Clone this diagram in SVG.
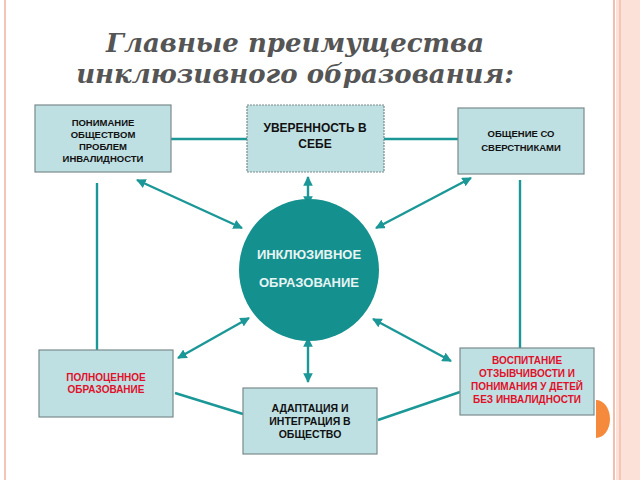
<svg xmlns="http://www.w3.org/2000/svg" width="640" height="480" viewBox="0 0 640 480">
<defs>
<marker id="a" viewBox="0 0 10 10" refX="9" refY="5" markerWidth="4" markerHeight="4" orient="auto-start-reverse"><path d="M0,0L10,5L0,10z" fill="#1b9797"/></marker>
<style>
.box{fill:#bfe0e3;stroke:#7a8a8a;stroke-width:1.2}
.t{font-family:"Liberation Sans",Arial,sans-serif;font-weight:bold;text-anchor:middle;fill:#111}
.r{fill:#e0102a}
.c{stroke:#1b9797;stroke-width:2.4;fill:none}
.ar{marker-start:url(#a);marker-end:url(#a)}
</style>
</defs>
<rect width="640" height="480" fill="#fff"/>
<line x1="5" y1="0" x2="5" y2="480" stroke="#f4c4b4" stroke-width="2"/>
<rect x="616" y="0" width="24" height="480" fill="#fbe1d8"/>
<line x1="614" y1="0" x2="614" y2="480" stroke="#f0a890" stroke-width="1.5"/>
<line x1="620" y1="0" x2="620" y2="480" stroke="#f0a890" stroke-width="1"/>
<path d="M596,400 A14,19 0 0 1 596,438 Z" fill="#f58a3c"/>
<g font-family="'DejaVu Serif',serif" font-style="italic" font-weight="bold" font-size="26" fill="#555" text-anchor="middle">
<text x="295" y="52">Главные преимущества</text>
<text x="295" y="83">инклюзивного образования:</text>
</g>
<g id="connectors">
<line class="c" x1="171" y1="139" x2="247" y2="139"/>
<line class="c" x1="384" y1="139" x2="458" y2="139"/>
<line class="c" x1="97" y1="183" x2="97" y2="350"/>
<line class="c" x1="520" y1="180" x2="520" y2="348"/>
<line class="c" x1="175" y1="393" x2="243" y2="414"/>
<line class="c" x1="378" y1="420" x2="460" y2="392"/>
<line class="c ar" x1="137" y1="180" x2="242" y2="228"/>
<line class="c ar" x1="308" y1="177" x2="308" y2="205"/>
<line class="c ar" x1="471" y1="178" x2="376" y2="228"/>
<line class="c ar" x1="249" y1="318" x2="178" y2="358"/>
<line class="c ar" x1="308" y1="338" x2="308" y2="382"/>
<line class="c ar" x1="373" y1="319" x2="451" y2="361"/>
</g>
<g id="center"><ellipse cx="309" cy="270" rx="70" ry="71" fill="#14908e"/>
<text class="t" x="309" y="259" style="fill:#e8f4f4;font-size:13px">ИНКЛЮЗИВНОЕ</text>
<text class="t" x="309" y="287" style="fill:#e8f4f4;font-size:13px">ОБРАЗОВАНИЕ</text></g>
<g id="n1"><rect class="box" x="35" y="105" width="136" height="67"/>
<text class="t" style="font-size:9.5px"><tspan x="103" y="126">ПОНИМАНИЕ</tspan><tspan x="103" y="138">ОБЩЕСТВОМ</tspan><tspan x="103" y="150">ПРОБЛЕМ</tspan><tspan x="103" y="162">ИНВАЛИДНОСТИ</tspan></text></g>
<g id="n2"><rect class="box" x="247" y="105" width="137" height="67" style="stroke-dasharray:2 1"/>
<text class="t" style="font-size:12px"><tspan x="315" y="132">УВЕРЕННОСТЬ В</tspan><tspan x="315" y="148">СЕБЕ</tspan></text></g>
<g id="n3"><rect class="box" x="458" y="108" width="126" height="66"/>
<text class="t" style="font-size:9.5px"><tspan x="521" y="137">ОБЩЕНИЕ СО</tspan><tspan x="521" y="151">СВЕРСТНИКАМИ</tspan></text></g>
<g id="n4"><rect class="box" x="39" y="350" width="134" height="67"/>
<text class="t r" style="font-size:10px"><tspan x="106" y="381">ПОЛНОЦЕННОЕ</tspan><tspan x="106" y="393">ОБРАЗОВАНИЕ</tspan></text></g>
<g id="n5"><rect class="box" x="243" y="388" width="134" height="66"/>
<text class="t" style="font-size:10.5px"><tspan x="310" y="412">АДАПТАЦИЯ И</tspan><tspan x="310" y="425">ИНТЕГРАЦИЯ В</tspan><tspan x="310" y="438">ОБЩЕСТВО</tspan></text></g>
<g id="n6"><rect class="box" x="460" y="348" width="134" height="67"/>
<text class="t r" style="font-size:10px"><tspan x="527" y="364">ВОСПИТАНИЕ</tspan><tspan x="527" y="377">ОТЗЫВЧИВОСТИ И</tspan><tspan x="527" y="390">ПОНИМАНИЯ У ДЕТЕЙ</tspan><tspan x="527" y="403">БЕЗ ИНВАЛИДНОСТИ</tspan></text></g>
</svg>
